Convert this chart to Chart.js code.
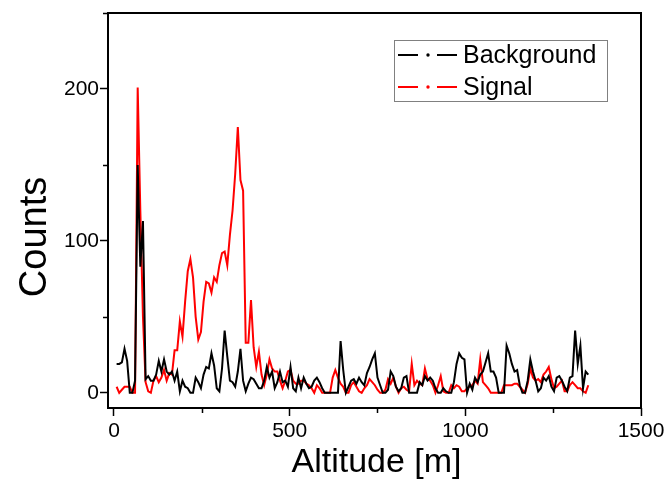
<!DOCTYPE html>
<html>
<head>
<meta charset="utf-8">
<script src="https://cdn.jsdelivr.net/npm/chart.js@4.4.0/dist/chart.umd.min.js"></script>
<style>
  html, body { margin: 0; padding: 0; background: #fff; }
  #wrap { width: 666px; height: 491px; }
</style>
</head>
<body>
<div id="wrap"><canvas id="chart" width="666" height="491"></canvas></div>
<script>
// Altitude bins (m) are 7.5 m wide, first bin at 7.5 m
const binWidth = 7.5;

// Counts per bin, background run
const backgroundCounts = [
    19, 19, 20, 29, 21, 0, 0, 8, 150, 83, 113, 9, 11, 8, 8, 12, 21, 14, 22, 14,
    12, 14, 8, 14, 1, 8, 4, 3, 0, 0, 10, 7, 3, 12, 17, 16, 26, 18, 3, 1,
    16, 41, 24, 8, 7, 4, 14, 29, 8, 1, 6, 10, 9, 6, 3, 3, 8, 17, 10, 14,
    3, 7, 14, 7, 8, 4, 17, 3, 1, 10, 3, 10, 6, 3, 4, 8, 10, 7, 3, 0,
    0, 0, 0, 0, 0, 34, 15, 0, 4, 8, 9, 6, 10, 7, 5, 13, 17, 22, 26, 10,
    5, 0, 0, 2, 14, 11, 4, 1, 3, 10, 11, 0, 0, 0, 0, 7, 5, 11, 8, 10,
    8, 3, 0, 0, 3, 1, 0, 0, 7, 19, 26, 23, 22, 0, 6, 2, 10, 7, 12, 14,
    20, 26, 14, 14, 10, 0, 0, 0, 31, 26, 19, 14, 15, 5, 0, 0, 8, 22, 14, 8,
    1, 3, 10, 8, 11, 4, 1, 10, 11, 8, 4, 1, 10, 11, 41, 19, 31, 3, 14, 12
];

// Counts per bin, signal run
const signalCounts = [
    4, 0, 2, 4, 4, 4, 0, 0, 201, 120, 50, 7, 1, 0, 8, 11, 7, 10, 15, 8,
    13, 12, 28, 28, 47, 37, 60, 80, 88, 76, 50, 35, 40, 60, 73, 72, 66, 76, 73, 84,
    92, 93, 84, 104, 120, 144, 175, 140, 133, 33, 33, 61, 30, 17, 27, 12, 5, 12, 22, 16,
    14, 14, 8, 3, 8, 14, 15, 8, 6, 6, 8, 8, 6, 5, 3, 0, 5, 3, 0, 0,
    0, 0, 10, 15, 10, 6, 4, 0, 0, 5, 7, 4, 1, 0, 3, 5, 9, 7, 5, 2,
    0, 0, 2, 9, 6, 10, 4, 0, 3, 4, 2, 1, 19, 5, 8, 6, 5, 16, 9, 8,
    5, 0, 5, 11, 1, 0, 0, 5, 3, 5, 4, 1, 1, 3, 4, 5, 8, 6, 22, 7,
    5, 3, 0, 0, 0, 0, 0, 5, 5, 5, 5, 6, 6, 4, 2, 0, 6, 16, 10, 8,
    9, 7, 12, 14, 17, 9, 3, 4, 6, 8, 1, 1, 5, 7, 5, 3, 3, 1, 0, 5
];

const seriesNames = ['Background', 'Signal'];
const seriesColors = ['#000000', '#ff0000'];

// Axis ticks
const xTickValues = [0, 500, 1000, 1500];
const xMinorTicks = [250, 750, 1250];
const yTickValues = [0, 100, 200];
const yMinorTicks = [50, 150, 250];

const FONT = '"Liberation Sans", Arial, Helvetica, sans-serif';

function toPoints(counts) {
    return counts.map((c, i) => ({ x: (i + 1) * binWidth, y: c }));
}

// Box frame, minor ticks, axis titles and the legend
const frameAndExtras = {
    id: 'frameAndExtras',
    afterDraw(chart) {
        const { ctx, chartArea: a, scales: { x, y } } = chart;
        ctx.save();

        ctx.strokeStyle = '#000';
        ctx.lineWidth = 2;
        ctx.strokeRect(a.left, a.top, a.right - a.left, a.bottom - a.top);

        ctx.lineWidth = 1.5;
        ctx.beginPath();
        xMinorTicks.forEach(v => {
            const px = Math.round(x.getPixelForValue(v)) + 0.5;
            ctx.moveTo(px, a.bottom);
            ctx.lineTo(px, a.bottom + 5);
        });
        yMinorTicks.forEach(v => {
            const py = Math.round(y.getPixelForValue(v)) + 0.5;
            ctx.moveTo(a.left, py);
            ctx.lineTo(a.left - 5, py);
        });
        ctx.stroke();

        // axis titles
        ctx.fillStyle = '#000';
        ctx.font = '34px ' + FONT;
        ctx.textAlign = 'center';
        ctx.textBaseline = 'alphabetic';
        ctx.fillText('Altitude [m]', (a.left + a.right) / 2 + 2, 472);

        ctx.save();
        ctx.translate(46, 237);
        ctx.rotate(-Math.PI / 2);
        ctx.font = '38px ' + FONT;
        ctx.fillText('Counts', 0, 0);
        ctx.restore();

        // legend
        const box = { left: 394, top: 40, width: 213, height: 61 };
        ctx.strokeStyle = '#808080';
        ctx.lineWidth = 1;
        ctx.strokeRect(box.left + 0.5, box.top + 0.5, box.width, box.height);

        chart.data.datasets.forEach((ds, i) => {
            const rowY = 55 + i * 32;
            ctx.strokeStyle = ds.borderColor;
            ctx.fillStyle = ds.borderColor;
            ctx.lineWidth = 2;
            ctx.beginPath();
            ctx.moveTo(398, rowY); ctx.lineTo(418, rowY);
            ctx.moveTo(437, rowY); ctx.lineTo(457, rowY);
            ctx.stroke();
            ctx.beginPath();
            ctx.arc(428, rowY, 1.7, 0, Math.PI * 2);
            ctx.fill();

            ctx.fillStyle = '#000';
            ctx.font = '25px ' + FONT;
            ctx.textAlign = 'left';
            ctx.textBaseline = 'middle';
            ctx.fillText(ds.label, 463, rowY + 1);
        });

        ctx.restore();
    }
};

const ctx = document.getElementById('chart').getContext('2d');
new Chart(ctx, {
    type: 'line',
    data: {
        datasets: [
            {
                label: seriesNames[0],
                data: toPoints(backgroundCounts),
                borderColor: seriesColors[0],
                borderWidth: 2,
                pointRadius: 0,
                tension: 0,
                fill: false
            },
            {
                label: seriesNames[1],
                data: toPoints(signalCounts),
                borderColor: seriesColors[1],
                borderWidth: 2,
                pointRadius: 0,
                tension: 0,
                fill: false
            }
        ]
    },
    options: {
        responsive: false,
        animation: false,
        events: [],
        layout: { padding: { top: 13, right: 25, left: 0, bottom: 0 } },
        plugins: {
            legend: { display: false },
            tooltip: { enabled: false }
        },
        scales: {
            x: {
                type: 'linear',
                min: -17,
                max: 1500,
                afterFit(scale) {
                    scale.height = 83;
                    scale.paddingLeft = 0;
                    scale.paddingRight = 0;
                },
                afterBuildTicks(scale) { scale.ticks = xTickValues.map(v => ({ value: v })); },
                ticks: {
                    color: '#000',
                    font: { family: FONT, size: 21 },
                    padding: 3,
                    maxRotation: 0,
                    autoSkip: false,
                    callback: v => String(v)
                },
                grid: {
                    drawOnChartArea: false,
                    drawTicks: true,
                    tickLength: 8,
                    tickWidth: 1.5,
                    tickColor: '#000'
                },
                border: { display: false }
            },
            y: {
                type: 'linear',
                min: -10,
                max: 250,
                afterFit(scale) {
                    scale.width = 108;
                    scale.paddingTop = 0;
                    scale.paddingBottom = 0;
                },
                afterBuildTicks(scale) { scale.ticks = yTickValues.map(v => ({ value: v })); },
                ticks: {
                    color: '#000',
                    font: { family: FONT, size: 21 },
                    padding: 1,
                    autoSkip: false,
                    callback: v => String(v)
                },
                grid: {
                    drawOnChartArea: false,
                    drawTicks: true,
                    tickLength: 8,
                    tickWidth: 1.5,
                    tickColor: '#000'
                },
                border: { display: false }
            }
        }
    },
    plugins: [frameAndExtras]
});
</script>
</body>
</html>
